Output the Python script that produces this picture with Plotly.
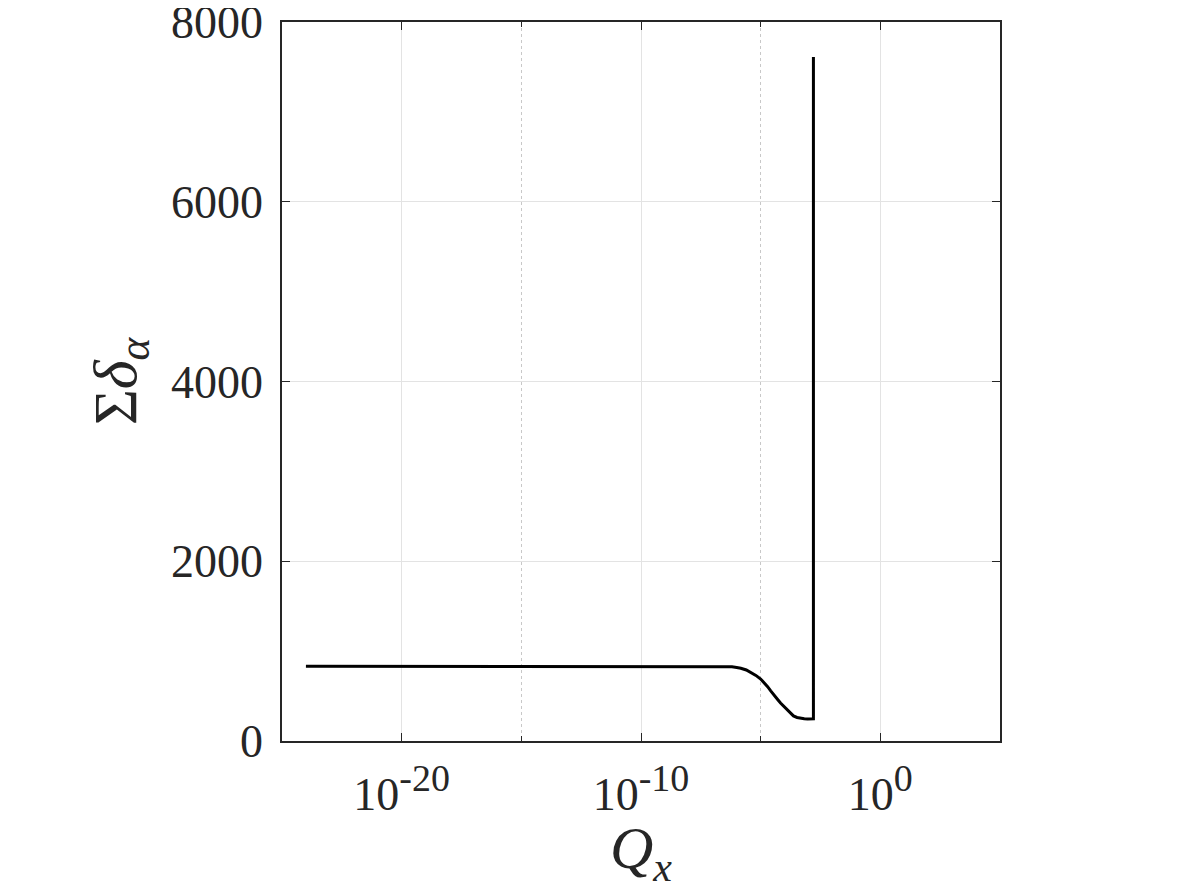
import plotly.graph_objects as go

# data
qx = [1e-24, 1e-12, 1e-8, 1e-7, 2.14e-7, 3.98e-7, 6.31e-7, 1e-6, 1.48e-6,
      2.51e-6, 3.80e-6, 6.31e-6, 1e-5, 1.41e-5, 1.95e-5, 2.63e-5, 3.47e-5,
      5.01e-5, 6.76e-5, 1e-4, 1.32e-4, 1.78e-4, 2.34e-4, 3.31e-4, 4.68e-4,
      6.61e-4, 9.12e-4, 1.48e-3, 1.6e-3, 1.6e-3]
sum_delta = [832, 832, 832, 832, 831, 829, 825, 818, 810,
             790, 765, 730, 690, 650, 605, 558, 512,
             465, 423, 378, 338, 302, 279, 262, 252,
             247, 245, 245, 246, 7610]

xticks = [1e-20, 1e-10, 1]
xexp = ['-20', '-10', '0']
yticks = [0, 2000, 4000, 6000, 8000]

axcol = '#262626'
gridcol = '#e3e3e3'
fnt = 'Liberation Serif, Times New Roman, serif'

xticktext = ['10<sup><span style="font-size:118%">' + e + '</span></sup>' for e in xexp]

fig = go.Figure()
fig.add_trace(go.Scatter(x=qx, y=sum_delta, mode='lines', line=dict(color='black', width=3),
                         showlegend=False))

# page body adds 8px, so the figure is a bit smaller than the window
fig.update_layout(
    width=1188, height=882,
    margin=dict(l=274, r=196, t=14, b=149),
    paper_bgcolor='white', plot_bgcolor='white',
    font=dict(family=fnt, size=46, color=axcol),
    xaxis=dict(type='log', range=[-25, 5], tickvals=xticks, ticktext=xticktext,
               showline=True, linecolor=axcol, linewidth=1.5, mirror='ticks',
               ticks='inside', ticklen=8, tickcolor=axcol, tickwidth=1.2,
               showgrid=True, gridcolor=gridcol, gridwidth=1, zeroline=False,
               ticklabelstandoff=12, ticklabeloverflow='allow', automargin=False,
               minor=dict(tickvals=[1e-15, 1e-5], ticks='inside', ticklen=5, tickcolor=axcol,
                          showgrid=True, gridcolor='#c8c8c8', griddash='dot', gridwidth=1),
               title=dict(text='<i>Q</i><sub><i>x</i></sub>', font=dict(size=60), standoff=8)),
    yaxis=dict(range=[0, 8000], tickvals=yticks,
               showline=True, linecolor=axcol, linewidth=1.5, mirror='ticks',
               ticks='inside', ticklen=8, tickcolor=axcol, tickwidth=1.2,
               showgrid=True, gridcolor=gridcol, gridwidth=1, zeroline=False,
               ticklabelstandoff=8, ticklabeloverflow='allow', automargin=False,
               title=dict(text='Σ<i>δ</i><sub><i>α</i></sub>', font=dict(size=62), standoff=14)),
)

fig.write_html("out.html")
